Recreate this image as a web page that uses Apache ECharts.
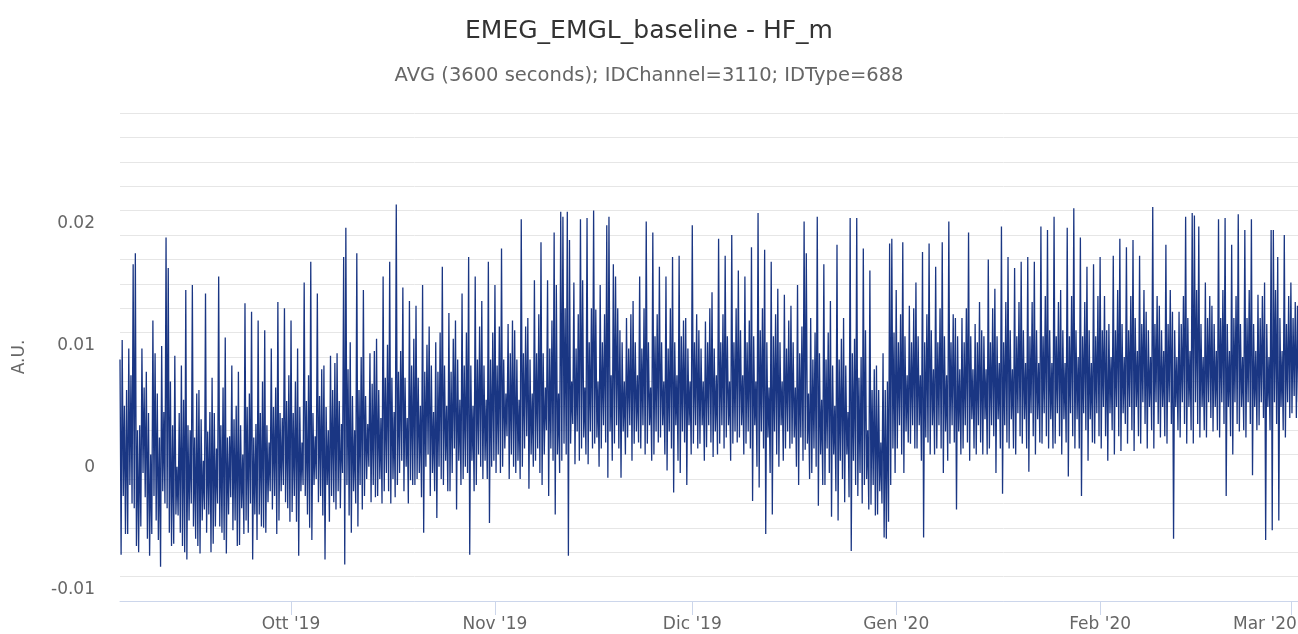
<!DOCTYPE html>
<html>
<head>
<meta charset="utf-8">
<script src="https://cdn.jsdelivr.net/npm/echarts@6/dist/echarts.min.js"></script>
<style>
html,body{margin:0;padding:0;background:#fff;}
#chart{width:1298px;height:634px;}
</style>
</head>
<body>
<div id="chart"></div>
<script>
const chartTitle = 'EMEG_EMGL_baseline - HF_m';
const chartSubtitle = 'AVG (3600 seconds); IDChannel=3110; IDType=688';
const yAxisName = 'A.U.';
const monthLabels = ["Ott '19", "Nov '19", "Dic '19", "Gen '20", "Feb '20", "Mar '20"];
const monthTicks = [Date.UTC(2019,9,1), Date.UTC(2019,10,1), Date.UTC(2019,11,1), Date.UTC(2020,0,1), Date.UTC(2020,1,1), Date.UTC(2020,2,1)];
const yTickLabels = [-0.01, 0, 0.01, 0.02];

// Values in units of 1e-4, one every 4 hours starting 2019-09-05 00:00 (UTC), six per day
const sep = [
98,-62,114,-14,60,-45, 73,-45,107,-5,85,-20, 176,-24,185,-55,40,-60, 44,-39,107,5,75,-15,
88,-49,54,-63,20,-45, 130,-14,103,-34,70,-50, 34,-72,109,-10,55,-20, 198,-24,173,-44,80,-55,
44,-53,101,-29,10,-30, 54,-44,93,-55,65,-60, 155,-66,44,-34,40,-20, 159,-39,34,-49,70,-55,
73,-61,49,-34,15,-25, 152,-44,39,-29,55,-60, 83,-53,54,-39,25,-20, 166,-39,44,-44,75,-50,
116,-61,34,-29,35,-15, 93,-42,49,-34,60,-55, 88,-54,44,-24,20,-45, 144,-34,59,-44,70,-20,
137,-66,34,-29,45,-50, 130,-29,54,-39,80,-40, 122,-44,44,-19,30,-10, 107,-25,59,-14,75,-45,
145,-34,54,-10,50,-5, 140,-19,64,-24,85,-35
];
const oct = [
130,-27,54,-14,80,-35, 107,-63,59,-10,30,-5, 161,-14,64,-29,85,-40, 178,-50,54,-5,35,0,
152,-19,68,-14,90,-30, 93,-66,59,-5,40,-35, 101,-14,73,-19,95,-25, 103,-10,64,-24,45,5,
182,-70,206,-5,90,-30, 112,-44,68,-10,40,-20, 185,-39,73,-5,100,-25, 155,-14,68,0,45,10,
103,-19,78,-5,105,-15, 115,-14,73,0,50,-20, 166,-10,83,5,110,-10, 178,-20,83,0,55,-15,
225,-5,88,5,105,15, 157,-10,83,10,50,-20, 146,-1,93,-5,115,-5, 142,0,83,5,60,-15,
159,-44,88,10,110,20, 125,-14,93,5,55,-10, 112,-32,88,10,120,0, 174,-5,93,15,60,-10,
136,-10,88,5,115,25, 130,-25,98,15,65,-5, 152,0,93,10,120,5, 182,-62,93,15,60,-10,
166,-5,98,20,125,10, 146,0,93,15,65,0, 178,-36,98,10,120,15
];
const nov = [
159,5,93,20,125,5, 189,10,98,25,70,35, 127,0,103,20,130,10, 122,5,98,15,65,0,
213,10,103,25,125,35, 132,-8,98,20,70,10, 163,15,103,25,135,5, 194,-5,103,20,75,40,
163,-14,107,25,130,15, 202,-29,159,20,70,5, 219,15,215,29,140,20, 219,-63,196,29,80,45,
161,12,107,39,135,15, 213,25,163,34,75,20, 214,12,112,39,140,25, 220,29,139,34,80,10,
159,25,112,44,135,30, 208,1,215,39,85,15, 176,29,166,44,140,25, 122,1,112,39,80,20,
132,34,107,44,135,15, 146,29,112,39,85,30, 166,25,107,44,140,20, 211,29,112,44,75,15,
202,20,117,39,135,30, 174,34,112,44,80,20, 166,7,107,39,140,25, 182,-11,112,44,85,15,
183,5,117,39,130,30, 132,-5,107,44,80,20
];
const dec = [
208,29,112,44,135,25, 122,29,107,44,80,15, 129,26,112,44,140,30, 153,18,107,39,85,20,
197,29,112,44,135,25, 183,34,117,44,80,15, 200,29,112,39,140,30, 171,34,122,44,85,20,
166,29,112,39,130,25, 190,-18,117,44,80,10, 218,-7,122,39,140,25, 188,-45,112,34,75,5,
178,-29,117,39,135,20, 156,10,112,44,80,15, 151,25,107,39,130,25, 142,29,112,34,75,10,
159,-5,103,34,125,15, 211,24,185,29,70,0, 132,5,98,25,120,10, 215,-22,103,20,65,-5,
176,-5,98,25,120,5, 146,-31,93,20,60,-10, 192,-34,98,15,115,0, 132,-19,93,20,55,-15,
214,-59,103,15,115,-5, 214,-14,83,5,100,-20, 189,-5,122,0,40,-25, 171,-21,73,-5,90,-30,
93,-29,73,-10,30,-20, 103,-48,73,-49,80,-35, 193,-5,197,25,120,5
];
const jan = [
155,25,112,44,135,20, 194,5,117,39,85,30, 142,29,112,44,140,25, 161,25,117,44,85,15,
186,-48,112,34,135,30, 193,20,122,44,90,20, 174,25,112,44,140,25, 194,5,117,39,85,15,
211,29,112,44,135,30, 132,-25,117,39,90,20, 132,25,112,44,140,30, 202,15,117,49,90,25,
127,20,112,44,145,30, 122,20,117,49,90,20, 180,25,112,44,140,35, 156,5,117,49,95,25,
207,-12,112,44,145,30, 182,25,122,49,90,25, 173,20,117,54,145,35, 178,29,122,49,95,25,
182,6,117,54,145,35, 178,20,122,49,95,30, 207,29,117,54,150,35, 204,25,122,49,95,25,
215,29,117,54,145,35, 155,20,122,49,95,30, 206,2,117,54,150,35, 222,25,122,49,100,25,
198,-14,117,54,145,40, 174,15,122,49,95,30, 176,29,117,54,150,35
];
const feb = [
182,25,122,59,150,35, 122,15,127,54,100,40, 183,20,122,59,155,35, 197,23,127,54,100,45,
190,29,122,59,150,40, 196,23,132,59,105,35, 183,29,127,63,155,45, 137,25,122,59,100,40,
223,25,127,63,150,45, 142,34,122,59,105,35, 192,29,127,63,155,45, 137,-49,122,59,100,40,
137,34,127,63,150,45, 215,29,132,59,105,40, 218,29,216,63,155,45, 207,34,127,59,100,40,
161,34,132,63,150,50, 142,39,127,59,105,40, 213,34,132,63,155,45, 214,-14,127,59,105,35,
192,20,132,63,150,45, 217,39,127,59,100,40, 204,34,132,63,155,45, 213,3,127,59,105,40,
151,44,132,63,150,50, 161,-50,127,59,100,40, 204,-42,204,63,155,45, 182,-34,132,59,105,40,
200,34,127,63,150,50
];
const mar = [161,54,132,68,145,50, 142,63];

const START = Date.UTC(2019, 8, 5);
const END = Date.UTC(2020, 2, 2, 2);
const STEP = 4 * 3600 * 1000;
const allValues = [].concat(sep, oct, nov, dec, jan, feb, mar);
const seriesData = allValues.map((v, i) => [START + i * STEP, v / 10000]);

const FONT = 'DejaVu Sans';
const chart = echarts.init(document.getElementById('chart'), null, {renderer: 'canvas'});
chart.setOption({
  animation: false,
  backgroundColor: '#ffffff',
  title: [
    {text: chartTitle, left: 'center', top: 14,
     textStyle: {fontFamily: FONT, fontSize: 25, fontWeight: 'normal', color: '#333333'}},
    {text: chartSubtitle, left: 'center', top: 61,
     textStyle: {fontFamily: FONT, fontSize: 19.5, fontWeight: 'normal', color: '#666666'}}
  ],
  grid: {left: 120, right: 0, top: 113, bottom: 33, containLabel: false, outerBoundsMode: 'none'},
  xAxis: {
    type: 'value', min: START, max: END,
    axisLine: {onZero: false, lineStyle: {color: '#ccd6eb', width: 1}},
    axisTick: {show: true, customValues: monthTicks, length: 14, lineStyle: {color: '#ccd6eb'}},
    axisLabel: {
      customValues: monthTicks, margin: 15, fontFamily: FONT, fontSize: 17, color: '#666666',
      hideOverlap: false,
      rich: {last: {fontFamily: FONT, fontSize: 17, color: '#666666', padding: [0, 52, 0, 0]}},
      formatter: function (v) {
        let best = 0;
        for (let i = 0; i < monthTicks.length; i++) {
          if (Math.abs(monthTicks[i] - v) < Math.abs(monthTicks[best] - v)) best = i;
        }
        return best === monthTicks.length - 1 ? '{last|' + monthLabels[best] + '}' : monthLabels[best];
      }
    },
    splitLine: {show: false}
  },
  yAxis: {
    type: 'value', min: -0.01, max: 0.03, interval: 0.002,
    name: yAxisName, nameLocation: 'middle', nameGap: 92, nameRotate: 90,
    nameTextStyle: {fontFamily: FONT, fontSize: 17, color: '#666666'},
    axisLine: {show: false}, axisTick: {show: false},
    splitLine: {show: true, lineStyle: {color: '#e6e6e6', width: 1}},
    axisLabel: {
      customValues: yTickLabels, margin: 25, fontFamily: FONT, fontSize: 17, color: '#666666',
      verticalAlign: 'bottom', padding: [0, 0, 3, 0],
      formatter: function (v) { return String(Math.round(v * 1000) / 1000); }
    }
  },
  series: [{
    type: 'line', data: seriesData, showSymbol: false, symbol: 'none',
    silent: true,
    lineStyle: {width: 1.3, color: '#1a3683'},
    itemStyle: {color: '#1a3683'}
  }]
});
</script>
</body>
</html>
